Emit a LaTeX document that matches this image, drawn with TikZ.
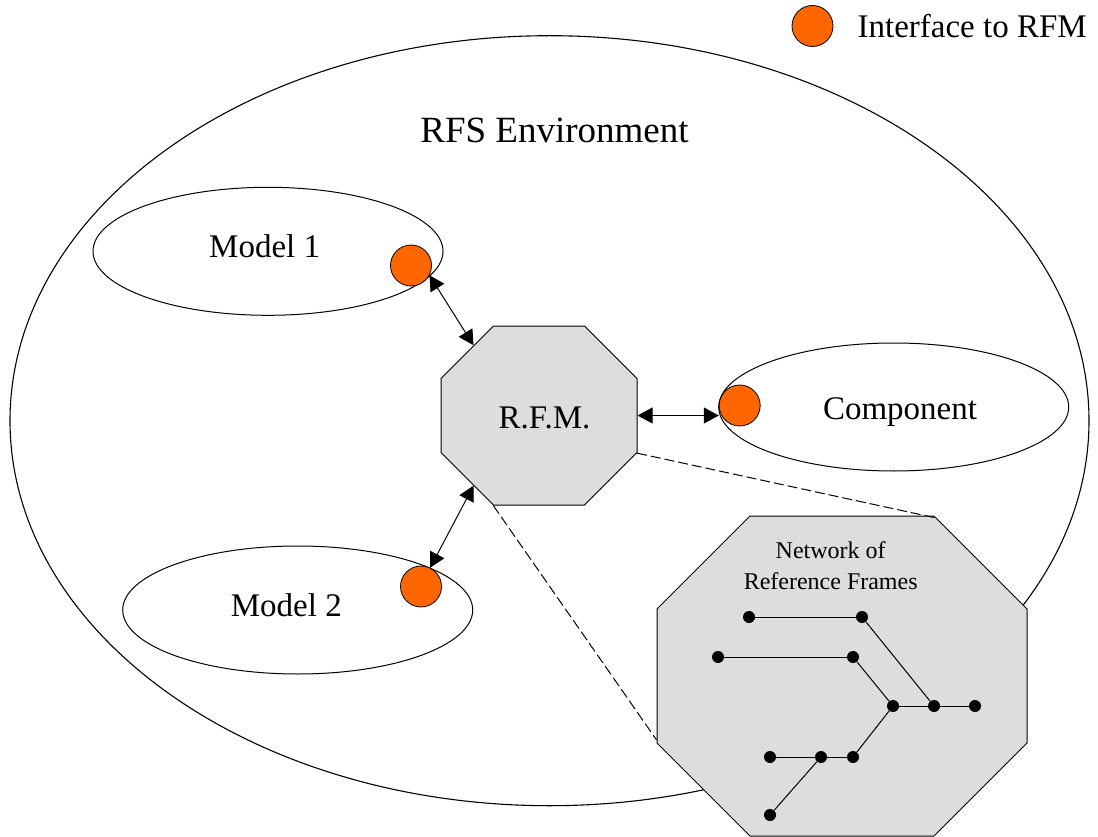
\documentclass[tikz,border=0pt]{standalone}
\usepackage{fontspec}
\setmainfont{Liberation Serif}
\usetikzlibrary{arrows.meta,positioning,shapes.geometric,shapes.misc}
\definecolor{ifaceorange}{HTML}{FF6600}
\definecolor{rfmgray}{HTML}{DDDDDD}
\tikzset{
  envellipse/.style={ellipse,draw,line width=1.1pt,minimum width=1079pt,minimum height=770pt,inner sep=0pt},
  partellipse/.style={ellipse,draw,line width=1pt,minimum width=350pt,minimum height=128pt,inner sep=0pt},
  octbox/.style={chamfered rectangle,draw,line width=1pt,fill=rfmgray},
  iface/.style={circle,draw,line width=0.8pt,fill=ifaceorange,minimum size=41pt,inner sep=0pt},
  refframe/.style={circle,fill=black,minimum size=12pt,inner sep=0pt},
  bigtext/.style={font=\fontsize{33}{40}\selectfont,inner sep=0pt},
  envtext/.style={font=\fontsize{37}{44}\selectfont,inner sep=0pt},
  smalltext/.style={font=\fontsize{24}{31}\selectfont,align=center,inner sep=0pt},
  twoway/.style={{Triangle[length=15pt,width=16pt]}-{Triangle[length=15pt,width=16pt]},line width=1pt},
  framelink/.style={line width=1pt},
  zoomline/.style={line width=1pt,dash pattern=on 10pt off 4pt}
}

\begin{document}
\begin{tikzpicture}[x=1pt,y=-1pt]
  \useasboundingbox (0,0) rectangle (1098,837);

  % environment and its parts
  \node[envellipse] (env) at (549.5,420.7) {};
  \node[partellipse] (model1) at (268,251.3) {};
  \node[partellipse] (model2) at (297.7,610) {};
  \node[partellipse] (comp) at (893.7,407) {};

  % reference frame manager and its zoomed view
  \node[octbox,inner xsep=72pt,inner ysep=63pt,chamfered rectangle xsep=26pt,chamfered rectangle ysep=26.5pt] (rfm) at (539,415.5) {};
  \node[octbox,inner xsep=139pt,inner ysep=113pt,chamfered rectangle xsep=46pt,chamfered rectangle ysep=47pt] (net) at (842,676) {};

  % network of frames
  \foreach \name/\px/\py in {f1/749/617, f2/862/617, f3/718/657, f4/853/657,
      f5/893/706, f6/934/706, f7/975/706, f8/770/757, f9/821/757, f10/853/757, f11/770/815}
    \node[refframe] (\name) at (\px,\py) {};
  \foreach \u/\v in {f1/f2, f2/f6, f3/f4, f4/f5, f5/f6, f6/f7, f5/f10, f8/f9, f9/f10, f9/f11}
    \draw[framelink] (\u) -- (\v);

  \draw[zoomline] (rfm.-21) -- (net.59.8);
  \draw[zoomline] (rfm.243.3) -- (net.199.9);

  % interfaces
  \node[iface] (if1) at (411,265.5) {};
  \node[iface] (if2) at (421,586.5) {};
  \node[iface] (if3) at (739.7,405.5) {};
  \node[iface] (legend) at (812.5,26) {};

  \draw[twoway] (if1.-28) -- (rfm.133.5);
  \draw[twoway] (if2.64.6) -- (rfm.227.7);
  \draw[twoway] (rfm.east) -- (rfm.east -| if3.west);

  % texts
  \node[envtext,anchor=base] at (554.5,142.7) {RFS Environment};
  \node[bigtext,anchor=base] at (264.7,257.3) {Model 1};
  \node[bigtext,anchor=base] at (286.3,616.7) {Model 2};
  \node[bigtext,anchor=base] at (900,419) {Component};
  \node[bigtext,anchor=base] at (544.5,428.3) {R.F.M.};
  \node[smalltext] at (830.7,565.6) {Network of\\Reference Frames};
  \node[bigtext,right=24pt of legend] {Interface to RFM};
\end{tikzpicture}
\end{document}
